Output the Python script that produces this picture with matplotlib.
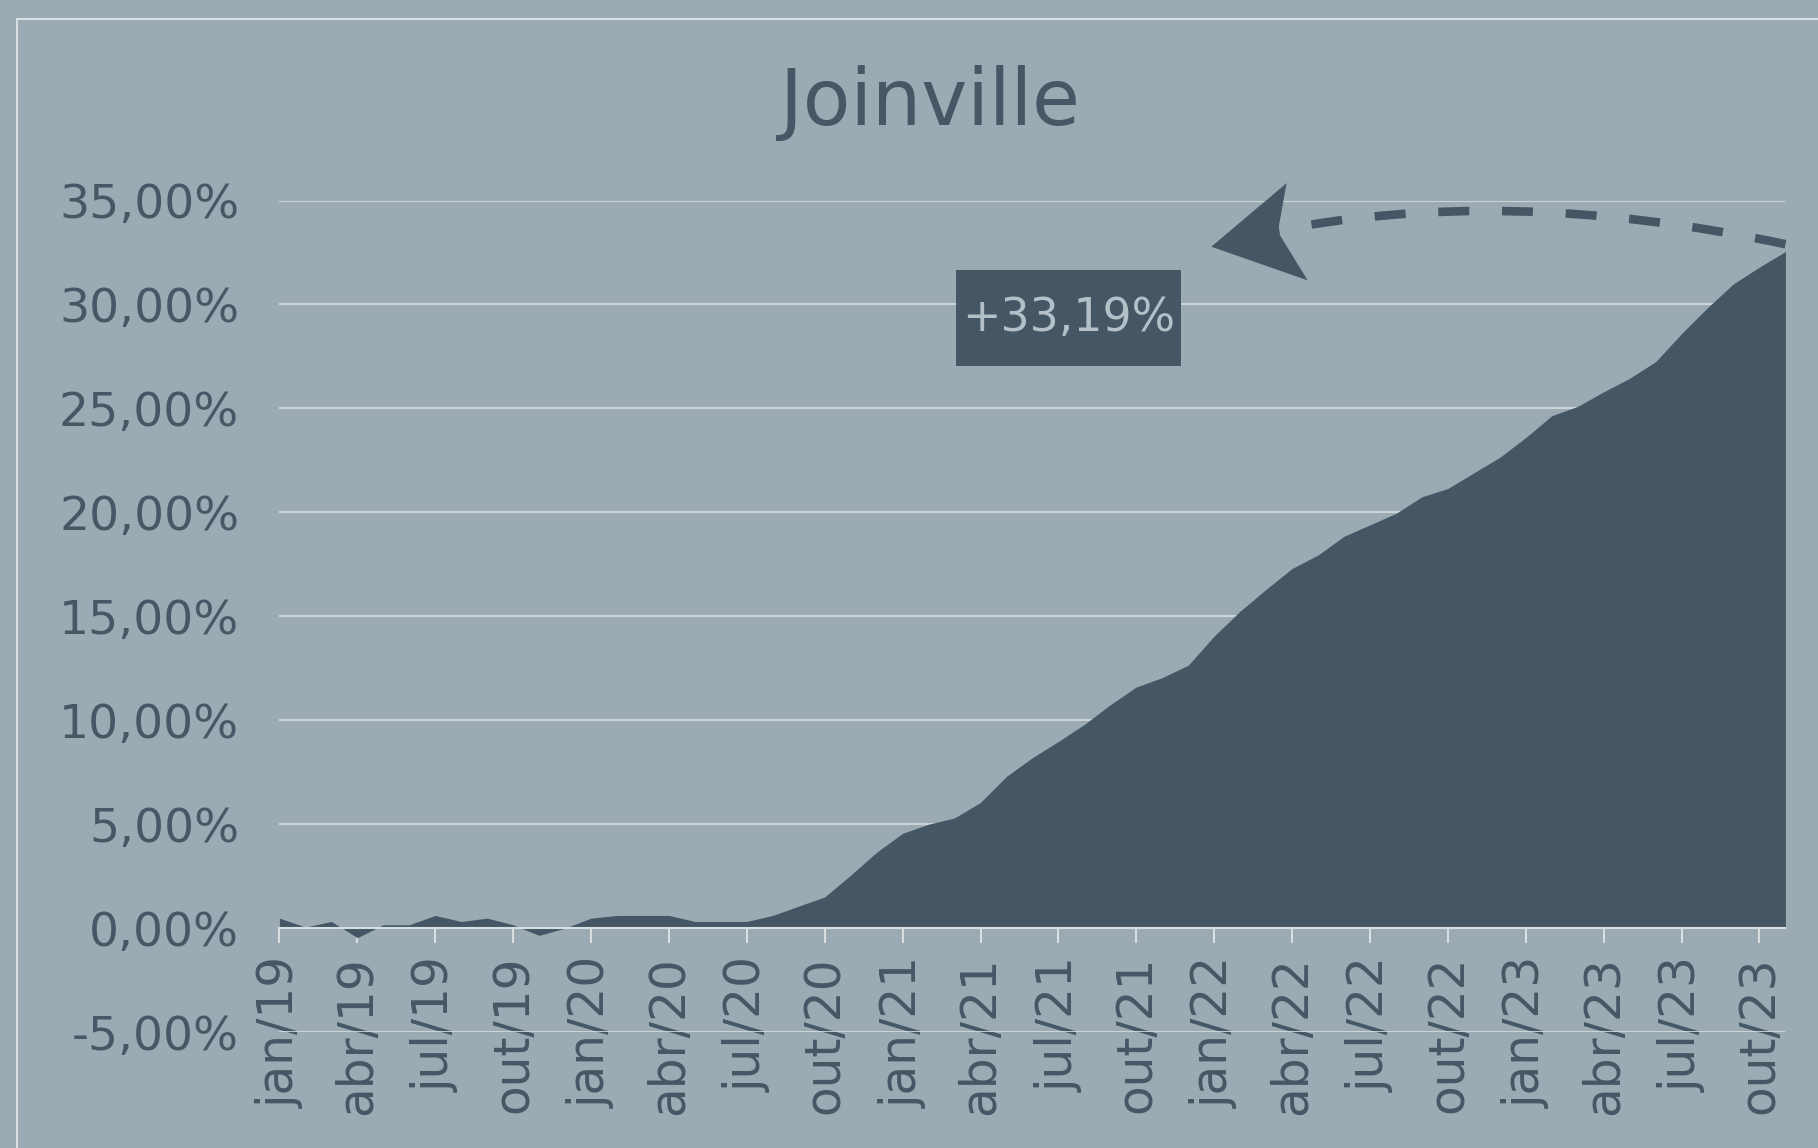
import matplotlib.pyplot as plt
import numpy as np
from matplotlib.patches import Rectangle, Polygon, PathPatch
from matplotlib.path import Path

# Joinville - variação acumulada
months = ['jan', 'fev', 'mar', 'abr', 'mai', 'jun', 'jul', 'ago', 'set', 'out', 'nov', 'dez']
years = ['19', '20', '21', '22', '23']
dates = [f"{m}/{y}" for y in years for m in months][:59]  # jan/19 .. nov/23

values = [0.48, 0.05, 0.32, -0.46, 0.16, 0.16, 0.61, 0.32, 0.48, 0.16,
          -0.35, 0.00, 0.48, 0.61, 0.61, 0.61, 0.32, 0.32, 0.32, 0.61,
          1.06, 1.50, 2.55, 3.65, 4.56, 5.00, 5.30, 6.05, 7.30, 8.20,
          8.98, 9.80, 10.75, 11.60, 12.05, 12.65, 14.05, 15.25, 16.30, 17.30,
          17.95, 18.85, 19.40, 19.95, 20.75, 21.15, 21.90, 22.65, 23.60, 24.65,
          25.10, 25.80, 26.45, 27.25, 28.60, 29.85, 31.00, 31.80, 32.55]
label_text = "+33,19%"
title = "Joinville"

bg = '#9BAAB3'
dark = '#455765'
txt = '#465866'
light = '#D9DEE1'

plt.rcParams['font.family'] = ['DejaVu Sans']

fig = plt.figure(figsize=(18.18, 11.48), dpi=100, facecolor=bg)
ax = fig.add_axes([0.1537, 0.1010, 0.9821 - 0.1537, 0.8253 - 0.1010])
ax.set_facecolor(bg)

x = np.arange(len(values))
ax.fill_between(x, 0, values, color=dark, linewidth=0, zorder=2)

for s in ['top', 'right', 'left']:
    ax.spines[s].set_visible(False)
ax.spines['bottom'].set_position(('data', 0))
ax.spines['bottom'].set_color(light)
ax.spines['bottom'].set_linewidth(1.5)
ax.spines['bottom'].set_zorder(3)

ax.set_xlim(0, len(values) - 1)
ax.set_ylim(-5, 35)
yt = np.arange(-5, 36, 5)
ax.set_yticks(yt)
ax.set_yticklabels([f"{v:.2f}%".replace('.', ',') for v in yt])
ax.grid(axis='y', color=light, linewidth=1.2, zorder=1)
ax.set_axisbelow(True)

ax.set_xticks(x[::3])
ax.set_xticklabels(dates[::3], rotation=90)

ax.tick_params(axis='y', length=0, pad=29, labelsize=34, labelcolor=txt)
ax.tick_params(axis='x', direction='out', length=11, width=1.5, color=light,
               pad=9, labelsize=35, labelcolor=txt)

fig.text(0.5115, 0.91, title, ha='center', va='center', fontsize=56, color=txt)

# label box
ax.add_patch(Rectangle((26.07, 27.05), 34.73 - 26.07, 31.66 - 27.05,
                       facecolor=dark, edgecolor='none', zorder=4, clip_on=False))
ax.text(30.4, 29.35, label_text, ha='center', va='center', fontsize=33,
        color='#B3C0C8', zorder=5)

# dashed arc arrow
arc = Path([(58, 32.9), (47.1, 35.8), (38.0, 33.45)],
           [Path.MOVETO, Path.CURVE3, Path.CURVE3])
ax.add_patch(PathPatch(arc, facecolor='none', edgecolor=dark, linewidth=6.2,
                       linestyle=(0, (3.6, 3.8)), zorder=5, clip_on=False))
head = [(35.89, 32.78), (38.79, 35.84), (38.45, 33.5), (39.6, 31.16)]
ax.add_patch(Polygon(head, closed=True, facecolor=dark, edgecolor='none',
                     zorder=5, clip_on=False))

# outer frame
fig.patches.append(Rectangle((0.0096, -0.2), 1.5, 0.9838 + 0.2, transform=fig.transFigure,
                             facecolor='none', edgecolor=light, linewidth=1.5))

fig.savefig('out.png', dpi=100, facecolor=bg)
